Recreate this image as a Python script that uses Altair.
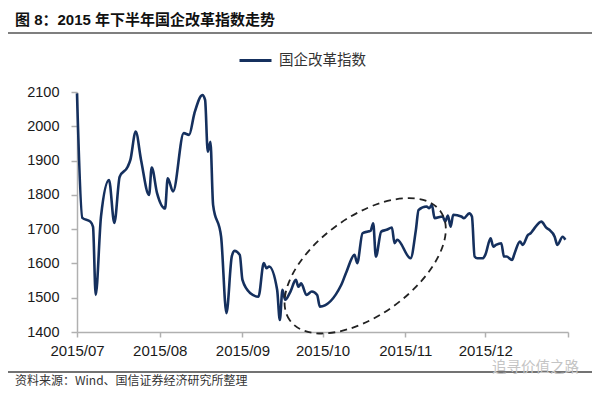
import altair as alt
import pandas as pd

# ---------------- data ----------------
dates = [
    "2015-07-01", "2015-07-03", "2015-07-06", "2015-07-07", "2015-07-08", "2015-07-10",
    "2015-07-13", "2015-07-15", "2015-07-17", "2015-07-20", "2015-07-21", "2015-07-23",
    "2015-07-25", "2015-07-28", "2015-07-29", "2015-07-31",
    "2015-08-03", "2015-08-04", "2015-08-06", "2015-08-10", "2015-08-12", "2015-08-14",
    "2015-08-17", "2015-08-18", "2015-08-19", "2015-08-20", "2015-08-21", "2015-08-24",
    "2015-08-26", "2015-08-28", "2015-08-29", "2015-08-31",
    "2015-09-01", "2015-09-04", "2015-09-07", "2015-09-09", "2015-09-10", "2015-09-11",
    "2015-09-14", "2015-09-15", "2015-09-16", "2015-09-17", "2015-09-19", "2015-09-21",
    "2015-09-22", "2015-09-23", "2015-09-25", "2015-09-27", "2015-09-29", "2015-09-30",
    "2015-10-08", "2015-10-10", "2015-10-13", "2015-10-14", "2015-10-16", "2015-10-18",
    "2015-10-19", "2015-10-20", "2015-10-21", "2015-10-23", "2015-10-25", "2015-10-27",
    "2015-10-28", "2015-10-29",
    "2015-11-03", "2015-11-05", "2015-11-06", "2015-11-09", "2015-11-10", "2015-11-11",
    "2015-11-12", "2015-11-15", "2015-11-16", "2015-11-17", "2015-11-18", "2015-11-19",
    "2015-11-22", "2015-11-23", "2015-11-25", "2015-11-26", "2015-11-27", "2015-11-28",
    "2015-11-30",
    "2015-12-01", "2015-12-03", "2015-12-04", "2015-12-05", "2015-12-07", "2015-12-08",
    "2015-12-09", "2015-12-11", "2015-12-12", "2015-12-14", "2015-12-15", "2015-12-17",
    "2015-12-18", "2015-12-19", "2015-12-22", "2015-12-24", "2015-12-25", "2015-12-27",
    "2015-12-28", "2015-12-30", "2015-12-31",
]
values = [
    2096, 1733, 1722, 1707, 1508, 1737,
    1843, 1718, 1853, 1882, 1902, 1985,
    1902, 1800, 1880, 1805,
    1760, 1848, 1810, 1980, 1975, 2038,
    2091, 2077, 1926, 1955, 1771, 1678,
    1455, 1620, 1637, 1625,
    1552, 1513, 1503, 1601, 1586, 1591,
    1523, 1435, 1523, 1494, 1518, 1552,
    1532, 1542, 1508, 1518, 1508, 1474,
    1537, 1576, 1625, 1601, 1688, 1693,
    1695, 1717, 1620, 1693, 1698, 1705,
    1659, 1669,
    1615, 1698, 1756, 1766, 1761, 1771,
    1732, 1737, 1722, 1740, 1707, 1742,
    1737, 1732, 1746, 1737, 1620, 1615,
    1615,
    1625, 1673, 1649, 1654, 1659, 1620,
    1620, 1610, 1630, 1664, 1654, 1683,
    1688, 1698, 1722, 1703, 1698, 1678,
    1654, 1678, 1669,
]
series_name = "国企改革指数"
y_ticks = [1400, 1500, 1600, 1700, 1800, 1900, 2000, 2100]
month_ticks = [(2015, 7), (2015, 8), (2015, 9), (2015, 10), (2015, 11), (2015, 12), (2016, 1)]

# annotation: dashed ellipse around the Oct-Nov rally (centre in data units)
ellipse_center_date = ["2015-10-17"]
ellipse_center_value = [1593]

title_text = "图 8：2015 年下半年国企改革指数走势"
source_text = "资料来源：Wind、国信证券经济研究所整理"
watermark_text = "追寻价值之路"

# ---------------- styling ----------------
LINE_COLOR = "#15305e"
AXIS_COLOR = "#b0b0b0"
W, H = 491, 240
LATIN = "Liberation Sans, Noto Sans CJK SC"
CJK = "Noto Sans CJK SC"

df = pd.DataFrame({"date": dates, "value": values, "series": series_name})
ell_df = pd.DataFrame({"date": ellipse_center_date, "value": ellipse_center_value})


def dt(y, m):
    return alt.DateTime(year=y, month=m, date=1, utc=True)


x_scale = alt.Scale(type="utc", domain=[dt(2015, 7), dt(2016, 1)])
y_scale = alt.Scale(domain=[1400, 2100], nice=False, zero=False)

x_axis = alt.Axis(
    values=[dt(y, m) for y, m in month_ticks],
    labelExpr="utcFormat(datum.value, '%m') == '01' ? '' : utcFormat(datum.value, '%Y/%m')",
    title=None, grid=False, tickSize=5, labelPadding=6,
    labelFontSize=15, labelFont=LATIN, labelColor="#1a1a1a",
    domainColor=AXIS_COLOR, tickColor=AXIS_COLOR, domainWidth=1.5, tickWidth=1.5,
    labelOverlap=False, labelFlush=False, labelBound=False,
)
y_axis = alt.Axis(
    values=y_ticks, tickCount=8, format="d", title=None, grid=False,
    tickSize=6, labelPadding=12,
    labelFontSize=14.5, labelFont=LATIN, labelColor="#1a1a1a",
    domainColor=AXIS_COLOR, tickColor=AXIS_COLOR, domainWidth=1.5, tickWidth=1.5,
    labelOverlap=False, labelFlush=False, labelBound=False,
)

line = alt.Chart(df).mark_line(strokeWidth=2.6, interpolate="monotone").encode(
    x=alt.X("date:T", scale=x_scale, axis=x_axis),
    y=alt.Y("value:Q", scale=y_scale, axis=y_axis),
    color=alt.Color(
        "series:N",
        scale=alt.Scale(range=[LINE_COLOR]),
        legend=alt.Legend(
            orient="none", legendX=161, legendY=-49, title=None,
            symbolType="stroke", symbolSize=1024, symbolStrokeWidth=3,
            labelFontSize=14.5, labelFont=CJK, labelColor="#333333",
            labelOffset=6, padding=0,
        ),
    ),
)

# ellipse as a custom symbol path (unit coordinates), rotated
k = 0.5523
ry = 0.53
ky = k * ry
ellipse_path = (
    f"M -1 0 C -1 {-ky:.4f} {-k:.4f} {-ry:.4f} 0 {-ry:.4f} "
    f"C {k:.4f} {-ry:.4f} 1 {-ky:.4f} 1 0 "
    f"C 1 {ky:.4f} {k:.4f} {ry:.4f} 0 {ry:.4f} "
    f"C {-k:.4f} {ry:.4f} -1 {ky:.4f} -1 0 Z"
)
ellipse = alt.Chart(ell_df).mark_point(
    shape=ellipse_path, size=186 * 186, angle=324, filled=False,
    stroke="#222222", strokeWidth=1.8, strokeDash=[7, 5], opacity=1,
).encode(
    x=alt.X("date:T", scale=x_scale, axis=x_axis),
    y=alt.Y("value:Q", scale=y_scale, axis=y_axis),
)

one = pd.DataFrame({"t": [0]})


def rule(y, x1=-69, x2=515, color="#555555", width=1.5):
    return alt.Chart(one).mark_rule(color=color, strokeWidth=width).encode(
        x=alt.value(x1), x2=alt.value(x2), y=alt.value(y)
    )


def text(s, x, y, size, font, color, weight="normal", align="left"):
    return alt.Chart(pd.DataFrame({"t": [s]})).mark_text(
        align=align, baseline="middle", fontSize=size, font=font,
        color=color, fontWeight=weight,
    ).encode(x=alt.value(x), y=alt.value(y), text="t:N")


layers = [
    rule(-87),
    rule(-59),
    rule(280, color="#444444"),
    text(title_text, -62, -72, 15, LATIN, "#111111", weight="bold"),
    text(source_text, -62, 288.5, 12, CJK, "#333333"),
    text(watermark_text, 415, 276, 14.5, CJK, "#c4c4c4"),
    line,
    ellipse,
]

chart = alt.layer(*layers).properties(
    width=W, height=H,
    padding={"left": 69, "top": 84, "right": 24, "bottom": 55},
    autosize=alt.AutoSizeParams(type="none"),
    background="white",
).configure_view(stroke=None)

chart.save("out.html", embed_options={"renderer": "svg", "actions": False})
